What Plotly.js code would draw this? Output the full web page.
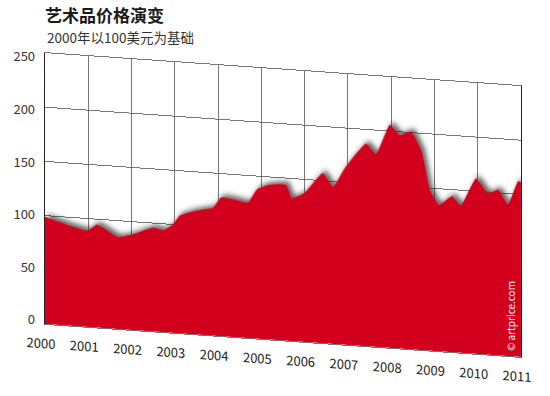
<!DOCTYPE html>
<html><head><meta charset="utf-8">
<script src="https://cdn.plot.ly/plotly-3.0.1.min.js"></script>
<style>html,body{margin:0;padding:0;background:#fff}#chart{width:550px;height:396px}</style>
</head><body><div id="chart"></div>
<script>
// ---- data ----
const years = [2000.00, 2000.99, 2001.20, 2001.69, 2002.01, 2002.50, 2002.73, 2002.96, 2003.12, 2003.47,
               2003.88, 2004.07, 2004.50, 2004.69, 2004.90, 2005.20, 2005.57, 2005.71, 2006.01, 2006.42,
               2006.66, 2006.93, 2007.42, 2007.65, 2007.97, 2008.20, 2008.46, 2008.71, 2008.90, 2009.10,
               2009.41, 2009.61, 2009.96, 2010.24, 2010.47, 2010.70, 2010.93, 2011.00];
const values = [99, 89, 95, 85, 88, 96, 94, 100, 109, 114,
                118, 128, 126, 125, 138, 143, 144, 132, 138, 157,
                145, 163, 187, 178, 206, 197, 201, 183, 148, 135,
                144, 136, 162, 149, 153, 140, 162, 161];
const yearTicks = [2000, 2001, 2002, 2003, 2004, 2005, 2006, 2007, 2008, 2009, 2010, 2011];
const yearLabels = ['2000','2001','2002','2003','2004','2005','2006','2007','2008','2009','2010','2011'];
const valueTicks = [0, 50, 100, 150, 200, 250];
const valueLabels = ['0','50','100','150','200','250'];
const titleText = '艺术品价格演变';
const subtitleText = '2000年以100美元为基础';
const creditText = '© artprice.com';

// ---- layout constants ----
const W = 550, H = 396;
const L = 45, R = 29, T = 53, B = 72;   // plot area 45..521 x 53..324
const PW = W - L - R, PH = H - T - B;
const FONT = '"Noto Sans CJK SC", "Noto Sans", sans-serif';
const RED = '#d2011b';

const trace = {
  x: years, y: values, type: 'scatter', mode: 'lines',
  fill: 'tozeroy', fillcolor: RED,
  line: {width: 0, color: RED, shape: 'spline', smoothing: 0.4},
  hoverinfo: 'skip'
};

const layout = {
  width: W, height: H,
  margin: {l: L, r: R, t: T, b: B, pad: 0},
  paper_bgcolor: '#ffffff', plot_bgcolor: '#ffffff',
  showlegend: false,
  font: {family: FONT, color: '#333'},
  title: {
    text: titleText,
    font: {family: FONT, size: 17, color: '#1a1a1a', weight: 'bold'},
    xref: 'container', yref: 'container',
    x: L / W, xanchor: 'left', y: 0.975, yanchor: 'top'
  },
  xaxis: {
    type: 'linear', range: [2000, 2011],
    tickmode: 'array', tickvals: yearTicks, ticktext: yearLabels,
    showgrid: true, gridcolor: '#555', gridwidth: 0.8,
    zeroline: false, showline: true, mirror: true, linecolor: '#555', linewidth: 0.8,
    layer: 'below traces', ticks: '',
    ticklabelstandoff: 8, ticklabelshift: -4,
    tickfont: {family: FONT, size: 13, color: '#222'}
  },
  yaxis: {
    range: [0, 250],
    tickmode: 'array', tickvals: valueTicks, ticktext: valueLabels,
    showgrid: true, gridcolor: '#555', gridwidth: 0.8,
    zeroline: false, showline: true, linecolor: '#222', linewidth: 1.3, mirror: true,
    ticks: '', ticklabelstandoff: 6,
    tickfont: {family: FONT, size: 13, color: '#333'}
  },
  annotations: [{
    text: subtitleText, xref: 'paper', yref: 'paper',
    x: 0, y: 1 + (T - 37) / PH, xanchor: 'left', yanchor: 'middle', showarrow: false,
    font: {family: FONT, size: 13.5, color: '#333'}
  }, {
    text: creditText, xref: 'paper', yref: 'paper',
    x: (510 - L) / PW, y: 1 - (316 - T) / PH,
    xanchor: 'center', yanchor: 'middle', showarrow: false, textangle: -90,
    font: {family: FONT, size: 10, color: '#ffffff'}
  }]
};

Plotly.newPlot('chart', [trace], layout, {staticPlot: true, displayModeBar: false}).then(gd => {
  // perspective-like slant of the whole plotting plane
  const k = 33 / 476;
  const pre = (el, m) => { if (!el) return; const t = el.getAttribute('transform') || ''; el.setAttribute('transform', m + ' ' + t); };
  pre(gd.querySelector('.cartesianlayer'), `matrix(1,${k},0,1,0,${-k * L})`);
  // keep the value labels upright, placed along the left edge
  const s = 263 / 271;
  pre(gd.querySelector('.yaxislayer-above'), `matrix(1,${-k},0,${s},0,${320 - 324 * s + k * L})`);
  // soft shadow above the red area
  const NS = 'http://www.w3.org/2000/svg';
  const svg = gd.querySelector('.main-svg');
  let defs = svg.querySelector('defs');
  if (!defs) { defs = document.createElementNS(NS, 'defs'); svg.insertBefore(defs, svg.firstChild); }
  const f = document.createElementNS(NS, 'filter');
  f.setAttribute('id', 'areashadow');
  f.setAttribute('x', '-5%'); f.setAttribute('y', '-10%');
  f.setAttribute('width', '110%'); f.setAttribute('height', '120%');
  const ds = document.createElementNS(NS, 'feDropShadow');
  ds.setAttribute('dx', '3'); ds.setAttribute('dy', '-3');
  ds.setAttribute('stdDeviation', '2.5');
  ds.setAttribute('flood-color', '#222'); ds.setAttribute('flood-opacity', '0.7');
  f.appendChild(ds); defs.appendChild(f);
  gd.querySelectorAll('.scatterlayer .js-fill').forEach(p => p.setAttribute('filter', 'url(#areashadow)'));
  gd.querySelectorAll('.cartesianlayer .plot').forEach(g => g.removeAttribute('clip-path'));
});
</script>
</body></html>
